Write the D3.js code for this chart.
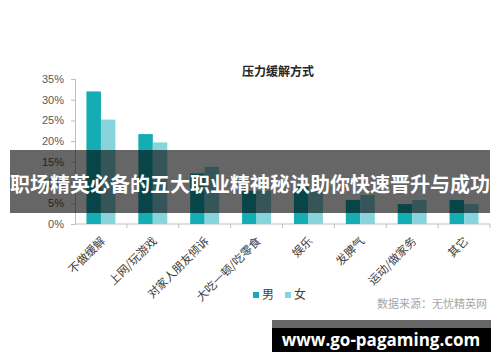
<!DOCTYPE html>
<html>
<head>
<meta charset="utf-8">
<script src="https://cdnjs.cloudflare.com/ajax/libs/d3/7.8.5/d3.min.js"></script>
<style>
  body { margin: 0; background: #fff; }
  svg { display: block; font-family: "Noto Sans CJK SC", "Noto Sans", sans-serif; }
</style>
</head>
<body>
<script>
var categories = ['不做缓解', '上网/玩游戏', '对家人朋友倾诉', '大吃一顿/吃零食', '娱乐', '发脾气', '运动/做家务', '其它']
var series = ['男', '女']
var male   = [0.32, 0.217, 0.122, 0.08, 0.09, 0.058, 0.048, 0.058]
var female = [0.252, 0.197, 0.138, 0.08, 0.08, 0.07, 0.058, 0.048]
var yTicks = [0, 0.05, 0.10, 0.15, 0.20, 0.25, 0.30, 0.35]
var colors = ['#14adb4', '#88d4dc']

var width = 500, height = 362
var svg = d3.select(document.body).append('svg')
  .attr('width', width)
  .attr('height', height)

var x0 = d3.scaleBand().domain(categories).range([75, 490])
var x1 = d3.scaleBand().domain(series).range([0, x0.bandwidth()]).paddingOuter(0.79)
var y = d3.scaleLinear().domain([0, 0.35]).range([224, 79])

// title
svg.append('text')
  .attr('x', 278).attr('y', 76)
  .attr('text-anchor', 'middle')
  .attr('font-size', 12).attr('font-weight', 'bold')
  .attr('fill', '#262626')
  .text('压力缓解方式')

// y axis
var yAxis = svg.append('g')
  .attr('transform', 'translate(75,0)')
  .call(d3.axisLeft(y).tickValues(yTicks).tickFormat(d3.format('.0%')).tickSize(4).tickPadding(7))
yAxis.select('.domain').attr('stroke', '#bfbfbf')
yAxis.selectAll('.tick line').attr('stroke', '#bfbfbf')
yAxis.selectAll('.tick text').attr('fill', '#595959').attr('font-size', 11)

// x axis, ticks on the category boundaries
var xAxis = svg.append('g').attr('transform', 'translate(0,224)')
xAxis.append('line')
  .attr('x1', 75).attr('x2', 490)
  .attr('stroke', '#bfbfbf')
xAxis.selectAll('line.tk').data(categories).enter().append('line')
  .attr('class', 'tk')
  .attr('x1', function(d) { return x0(d) + x0.bandwidth() })
  .attr('x2', function(d) { return x0(d) + x0.bandwidth() })
  .attr('y1', 0).attr('y2', 4)
  .attr('stroke', '#bfbfbf')
xAxis.selectAll('text').data(categories).enter().append('text')
  .attr('transform', function(d) {
    return 'translate(' + (x0(d) + x0.bandwidth() / 2 + 2) + ',15) rotate(-45)'
  })
  .attr('text-anchor', 'end')
  .attr('dy', '0.35em')
  .attr('font-size', 11.5)
  .attr('fill', '#404040')
  .text(function(d) { return d })

// bars
var rows = categories.map(function(c, i) {
  return { cat: c, values: [male[i], female[i]] }
})
var groups = svg.selectAll('g.grp').data(rows).enter().append('g')
  .attr('class', 'grp')
  .attr('transform', function(d) { return 'translate(' + x0(d.cat) + ',0)' })
groups.selectAll('rect').data(function(d) {
    return d.values.map(function(v, j) { return { s: series[j], v: v, j: j } })
  }).enter().append('rect')
  .attr('x', function(d) { return x1(d.s) })
  .attr('y', function(d) { return y(d.v) })
  .attr('width', x1.bandwidth())
  .attr('height', function(d) { return y(0) - y(d.v) })
  .attr('fill', function(d) { return colors[d.j] })

// legend
var legend = svg.append('g').attr('transform', 'translate(253,295)')
series.forEach(function(s, i) {
  var g = legend.append('g').attr('transform', 'translate(' + (i * 32) + ',0)')
  g.append('rect').attr('x', 0).attr('y', -3).attr('width', 6).attr('height', 6).attr('fill', colors[i])
  g.append('text').attr('x', 9).attr('dy', '0.35em')
    .attr('font-size', 12).attr('fill', '#404040')
    .text(s)
})

svg.append('text')
  .attr('x', 487).attr('y', 304)
  .attr('dy', '0.35em')
  .attr('text-anchor', 'end')
  .attr('font-size', 11)
  .attr('fill', '#a6a6a6')
  .text('数据来源：无忧精英网')

// overlay banner
svg.append('rect')
  .attr('x', 10).attr('y', 150)
  .attr('width', 480).attr('height', 63)
  .attr('fill', 'rgba(0,0,0,0.6)')
svg.append('text')
  .attr('x', 250).attr('y', 185)
  .attr('dy', '0.35em')
  .attr('text-anchor', 'middle')
  .attr('font-size', 20).attr('font-weight', 'bold')
  .attr('fill', '#fff')
  .text('职场精英必备的五大职业精神秘诀助你快速晋升与成功')

// watermark
svg.append('rect').attr('x', 272).attr('y', 320).attr('width', 219).attr('height', 8).attr('fill', '#666')
svg.append('rect').attr('x', 272).attr('y', 328).attr('width', 219).attr('height', 24).attr('fill', '#000')
svg.append('text')
  .attr('x', 381).attr('y', 340)
  .attr('dy', '0.35em')
  .attr('text-anchor', 'middle')
  .attr('font-family', '"Open Sans", "DejaVu Sans", sans-serif')
  .attr('font-size', 17).attr('font-weight', 'bold')
  .attr('fill', '#fff')
  .text('www.go-pagaming.com')
</script>
</body>
</html>
